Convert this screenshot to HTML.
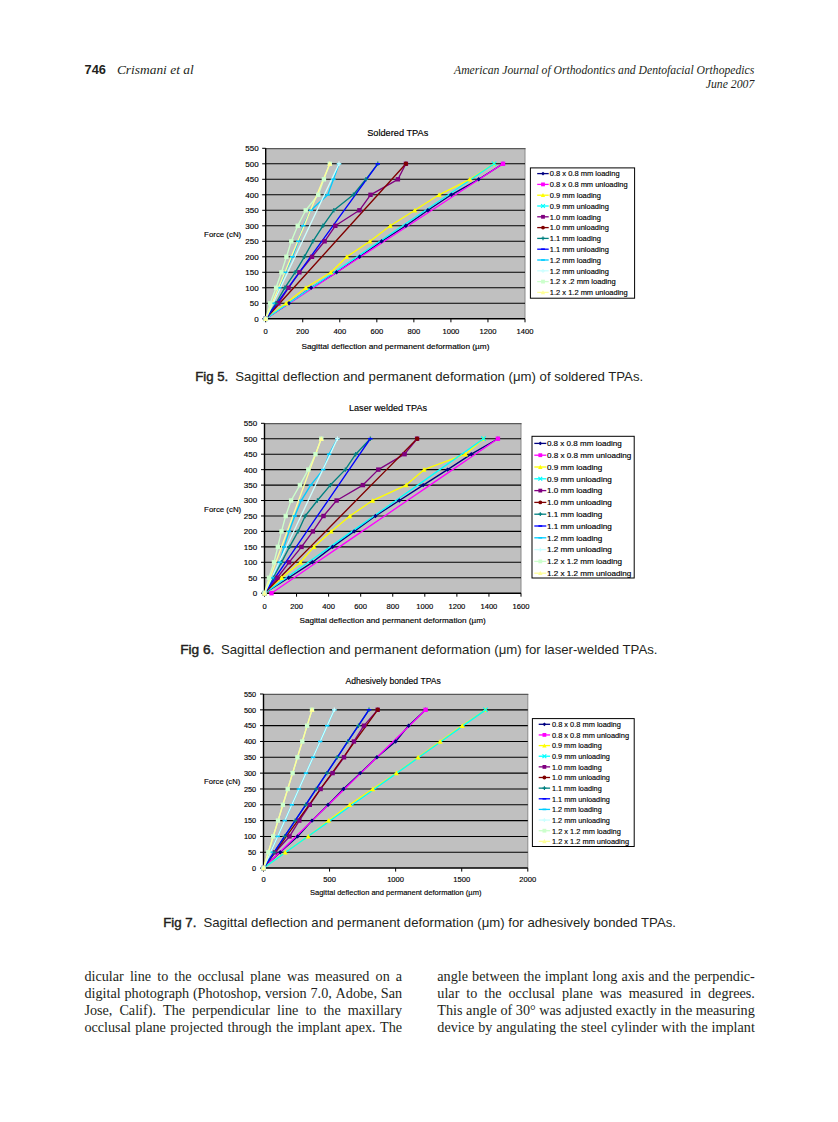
<!DOCTYPE html>
<html><head><meta charset="utf-8"><title>Page 746</title>
<style>html,body{margin:0;padding:0;background:#fff;}body{width:838px;height:1122px;overflow:hidden;}svg{display:block;}</style>
</head><body>
<svg width="838" height="1122" viewBox="0 0 838 1122">
<text x="84.6" y="74.2" font-family="Liberation Sans" font-size="12.8" font-weight="bold" font-style="normal" fill="#231f20" text-anchor="start" textLength="21.4" lengthAdjust="spacingAndGlyphs">746</text>
<text x="116.9" y="74.2" font-family="Liberation Serif" font-size="13.4" font-weight="normal" font-style="italic" fill="#231f20" text-anchor="start" textLength="76.8" lengthAdjust="spacingAndGlyphs">Crismani et al</text>
<text x="454.0" y="74.2" font-family="Liberation Serif" font-size="11.7" font-weight="normal" font-style="italic" fill="#231f20" text-anchor="start" textLength="300.3" lengthAdjust="spacingAndGlyphs">American Journal of Orthodontics and Dentofacial Orthopedics</text>
<text x="705.8" y="87.6" font-family="Liberation Serif" font-size="11.7" font-weight="normal" font-style="italic" fill="#231f20" text-anchor="start" textLength="48.5" lengthAdjust="spacingAndGlyphs">June 2007</text>
<rect x="265.70" y="148.30" width="259.30" height="170.50" fill="#C0C0C0"/>
<path d="M525.00 148.30V318.80" fill="none" stroke="#8a8a8a" stroke-width="1"/>
<path d="M265.70 148.60H525.50" fill="none" stroke="#5a5a5a" stroke-width="1.2"/>
<line x1="265.70" x2="525.00" y1="303.30" y2="303.30" stroke="#000" stroke-width="1.1"/>
<line x1="265.70" x2="525.00" y1="287.80" y2="287.80" stroke="#000" stroke-width="1.1"/>
<line x1="265.70" x2="525.00" y1="272.30" y2="272.30" stroke="#000" stroke-width="1.1"/>
<line x1="265.70" x2="525.00" y1="256.80" y2="256.80" stroke="#000" stroke-width="1.1"/>
<line x1="265.70" x2="525.00" y1="241.30" y2="241.30" stroke="#000" stroke-width="1.1"/>
<line x1="265.70" x2="525.00" y1="225.80" y2="225.80" stroke="#000" stroke-width="1.1"/>
<line x1="265.70" x2="525.00" y1="210.30" y2="210.30" stroke="#000" stroke-width="1.1"/>
<line x1="265.70" x2="525.00" y1="194.80" y2="194.80" stroke="#000" stroke-width="1.1"/>
<line x1="265.70" x2="525.00" y1="179.30" y2="179.30" stroke="#000" stroke-width="1.1"/>
<line x1="265.70" x2="525.00" y1="163.80" y2="163.80" stroke="#000" stroke-width="1.1"/>
<line x1="265.70" x2="525.00" y1="318.80" y2="318.80" stroke="#000" stroke-width="1.5"/>
<line x1="265.70" x2="265.70" y1="148.30" y2="318.80" stroke="#000" stroke-width="1.4"/>
<line x1="262.20" x2="265.70" y1="318.80" y2="318.80" stroke="#000" stroke-width="1"/>
<text x="258.6" y="321.7" font-family="Liberation Sans" font-size="8" font-weight="normal" font-style="normal" fill="#000" text-anchor="end" stroke="#000" stroke-width="0.15">0</text>
<line x1="262.20" x2="265.70" y1="303.30" y2="303.30" stroke="#000" stroke-width="1"/>
<text x="258.6" y="306.2" font-family="Liberation Sans" font-size="8" font-weight="normal" font-style="normal" fill="#000" text-anchor="end" stroke="#000" stroke-width="0.15">50</text>
<line x1="262.20" x2="265.70" y1="287.80" y2="287.80" stroke="#000" stroke-width="1"/>
<text x="258.6" y="290.7" font-family="Liberation Sans" font-size="8" font-weight="normal" font-style="normal" fill="#000" text-anchor="end" stroke="#000" stroke-width="0.15">100</text>
<line x1="262.20" x2="265.70" y1="272.30" y2="272.30" stroke="#000" stroke-width="1"/>
<text x="258.6" y="275.2" font-family="Liberation Sans" font-size="8" font-weight="normal" font-style="normal" fill="#000" text-anchor="end" stroke="#000" stroke-width="0.15">150</text>
<line x1="262.20" x2="265.70" y1="256.80" y2="256.80" stroke="#000" stroke-width="1"/>
<text x="258.6" y="259.7" font-family="Liberation Sans" font-size="8" font-weight="normal" font-style="normal" fill="#000" text-anchor="end" stroke="#000" stroke-width="0.15">200</text>
<line x1="262.20" x2="265.70" y1="241.30" y2="241.30" stroke="#000" stroke-width="1"/>
<text x="258.6" y="244.2" font-family="Liberation Sans" font-size="8" font-weight="normal" font-style="normal" fill="#000" text-anchor="end" stroke="#000" stroke-width="0.15">250</text>
<line x1="262.20" x2="265.70" y1="225.80" y2="225.80" stroke="#000" stroke-width="1"/>
<text x="258.6" y="228.7" font-family="Liberation Sans" font-size="8" font-weight="normal" font-style="normal" fill="#000" text-anchor="end" stroke="#000" stroke-width="0.15">300</text>
<line x1="262.20" x2="265.70" y1="210.30" y2="210.30" stroke="#000" stroke-width="1"/>
<text x="258.6" y="213.2" font-family="Liberation Sans" font-size="8" font-weight="normal" font-style="normal" fill="#000" text-anchor="end" stroke="#000" stroke-width="0.15">350</text>
<line x1="262.20" x2="265.70" y1="194.80" y2="194.80" stroke="#000" stroke-width="1"/>
<text x="258.6" y="197.7" font-family="Liberation Sans" font-size="8" font-weight="normal" font-style="normal" fill="#000" text-anchor="end" stroke="#000" stroke-width="0.15">400</text>
<line x1="262.20" x2="265.70" y1="179.30" y2="179.30" stroke="#000" stroke-width="1"/>
<text x="258.6" y="182.2" font-family="Liberation Sans" font-size="8" font-weight="normal" font-style="normal" fill="#000" text-anchor="end" stroke="#000" stroke-width="0.15">450</text>
<line x1="262.20" x2="265.70" y1="163.80" y2="163.80" stroke="#000" stroke-width="1"/>
<text x="258.6" y="166.7" font-family="Liberation Sans" font-size="8" font-weight="normal" font-style="normal" fill="#000" text-anchor="end" stroke="#000" stroke-width="0.15">500</text>
<line x1="262.20" x2="265.70" y1="148.30" y2="148.30" stroke="#000" stroke-width="1"/>
<text x="258.6" y="151.2" font-family="Liberation Sans" font-size="8" font-weight="normal" font-style="normal" fill="#000" text-anchor="end" stroke="#000" stroke-width="0.15">550</text>
<line x1="265.70" x2="265.70" y1="318.80" y2="322.30" stroke="#000" stroke-width="1"/>
<text x="265.7" y="334.1" font-family="Liberation Sans" font-size="7.6" font-weight="normal" font-style="normal" fill="#000" text-anchor="middle" stroke="#000" stroke-width="0.15">0</text>
<line x1="302.74" x2="302.74" y1="318.80" y2="322.30" stroke="#000" stroke-width="1"/>
<text x="302.7" y="334.1" font-family="Liberation Sans" font-size="7.6" font-weight="normal" font-style="normal" fill="#000" text-anchor="middle" stroke="#000" stroke-width="0.15">200</text>
<line x1="339.79" x2="339.79" y1="318.80" y2="322.30" stroke="#000" stroke-width="1"/>
<text x="339.8" y="334.1" font-family="Liberation Sans" font-size="7.6" font-weight="normal" font-style="normal" fill="#000" text-anchor="middle" stroke="#000" stroke-width="0.15">400</text>
<line x1="376.83" x2="376.83" y1="318.80" y2="322.30" stroke="#000" stroke-width="1"/>
<text x="376.8" y="334.1" font-family="Liberation Sans" font-size="7.6" font-weight="normal" font-style="normal" fill="#000" text-anchor="middle" stroke="#000" stroke-width="0.15">600</text>
<line x1="413.87" x2="413.87" y1="318.80" y2="322.30" stroke="#000" stroke-width="1"/>
<text x="413.9" y="334.1" font-family="Liberation Sans" font-size="7.6" font-weight="normal" font-style="normal" fill="#000" text-anchor="middle" stroke="#000" stroke-width="0.15">800</text>
<line x1="450.91" x2="450.91" y1="318.80" y2="322.30" stroke="#000" stroke-width="1"/>
<text x="450.9" y="334.1" font-family="Liberation Sans" font-size="7.6" font-weight="normal" font-style="normal" fill="#000" text-anchor="middle" stroke="#000" stroke-width="0.15">1000</text>
<line x1="487.96" x2="487.96" y1="318.80" y2="322.30" stroke="#000" stroke-width="1"/>
<text x="488.0" y="334.1" font-family="Liberation Sans" font-size="7.6" font-weight="normal" font-style="normal" fill="#000" text-anchor="middle" stroke="#000" stroke-width="0.15">1200</text>
<line x1="525.00" x2="525.00" y1="318.80" y2="322.30" stroke="#000" stroke-width="1"/>
<text x="525.0" y="334.1" font-family="Liberation Sans" font-size="7.6" font-weight="normal" font-style="normal" fill="#000" text-anchor="middle" stroke="#000" stroke-width="0.15">1400</text>
<path d="M265.70 318.80 L289.04 303.30 L311.08 287.80 L336.64 272.30 L359.60 256.80 L381.64 241.30 L405.91 225.80 L427.95 210.30 L451.28 194.80 L478.70 179.30 L502.96 163.80" fill="none" stroke="#000080" stroke-width="1.35" stroke-linejoin="round"/>
<path d="M265.70 318.80 L289.43 303.30 L313.15 287.80 L336.88 272.30 L360.60 256.80 L384.33 241.30 L408.06 225.80 L431.78 210.30 L455.51 194.80 L479.23 179.30 L502.96 163.80" fill="none" stroke="#FF00FF" stroke-width="1.35" stroke-linejoin="round"/>
<path d="M265.70 318.80 L286.07 303.30 L305.71 287.80 L330.90 272.30 L346.82 256.80 L369.98 241.30 L390.35 225.80 L414.80 210.30 L439.06 194.80 L469.81 179.30 L494.07 163.80" fill="none" stroke="#FFFF00" stroke-width="1.35" stroke-linejoin="round"/>
<path d="M265.70 318.80 L288.54 303.30 L311.37 287.80 L334.21 272.30 L357.05 256.80 L379.88 241.30 L402.72 225.80 L425.56 210.30 L448.40 194.80 L471.23 179.30 L494.07 163.80" fill="none" stroke="#00FFFF" stroke-width="1.35" stroke-linejoin="round"/>
<path d="M265.70 318.80 L278.29 303.30 L288.48 287.80 L299.41 272.30 L312.00 256.80 L324.60 241.30 L335.34 225.80 L359.42 210.30 L370.53 194.80 L397.94 179.30 L405.91 163.80" fill="none" stroke="#800080" stroke-width="1.35" stroke-linejoin="round"/>
<path d="M265.70 318.80 L279.72 303.30 L293.74 287.80 L307.76 272.30 L321.78 256.80 L335.80 241.30 L349.82 225.80 L363.85 210.30 L377.87 194.80 L391.89 179.30 L405.91 163.80" fill="none" stroke="#800000" stroke-width="1.35" stroke-linejoin="round"/>
<path d="M265.70 318.80 L275.89 303.30 L284.78 287.80 L295.15 272.30 L304.41 256.80 L312.93 241.30 L322.93 225.80 L333.86 210.30 L353.31 194.80 L365.90 179.30 L377.75 163.80" fill="none" stroke="#008080" stroke-width="1.35" stroke-linejoin="round"/>
<path d="M265.70 318.80 L276.91 303.30 L288.11 287.80 L299.32 272.30 L310.52 256.80 L321.73 241.30 L332.93 225.80 L344.14 210.30 L355.34 194.80 L366.55 179.30 L377.75 163.80" fill="none" stroke="#0000FF" stroke-width="1.35" stroke-linejoin="round"/>
<path d="M265.70 318.80 L272.92 303.30 L279.22 287.80 L285.15 272.30 L292.37 256.80 L298.30 241.30 L303.30 225.80 L310.89 210.30 L327.75 194.80 L333.49 179.30 L339.04 163.80" fill="none" stroke="#00CCFF" stroke-width="1.35" stroke-linejoin="round"/>
<path d="M265.70 318.80 L273.03 303.30 L280.37 287.80 L287.70 272.30 L295.04 256.80 L302.37 241.30 L309.71 225.80 L317.04 210.30 L324.38 194.80 L331.71 179.30 L339.04 163.80" fill="none" stroke="#CCFFFF" stroke-width="1.35" stroke-linejoin="round"/>
<path d="M265.70 318.80 L270.24 303.30 L276.07 287.80 L281.44 272.30 L286.44 256.80 L291.26 241.30 L297.74 225.80 L305.71 210.30 L318.30 194.80 L323.86 179.30 L329.78 163.80" fill="none" stroke="#CCFFCC" stroke-width="1.35" stroke-linejoin="round"/>
<path d="M265.70 318.80 L272.11 303.30 L278.52 287.80 L284.93 272.30 L291.33 256.80 L297.74 241.30 L304.15 225.80 L310.56 210.30 L316.97 194.80 L323.38 179.30 L329.78 163.80" fill="none" stroke="#FFFF99" stroke-width="1.35" stroke-linejoin="round"/>
<path d="M265.7 316.6L267.9 318.8L265.7 321.0L263.5 318.8Z" fill="#000080"/>
<path d="M289.0 301.1L291.2 303.3L289.0 305.5L286.8 303.3Z" fill="#000080"/>
<path d="M311.1 285.6L313.3 287.8L311.1 290.0L308.9 287.8Z" fill="#000080"/>
<path d="M336.6 270.1L338.8 272.3L336.6 274.5L334.4 272.3Z" fill="#000080"/>
<path d="M359.6 254.6L361.8 256.8L359.6 259.0L357.4 256.8Z" fill="#000080"/>
<path d="M381.6 239.1L383.8 241.3L381.6 243.5L379.4 241.3Z" fill="#000080"/>
<path d="M405.9 223.6L408.1 225.8L405.9 228.0L403.7 225.8Z" fill="#000080"/>
<path d="M427.9 208.1L430.1 210.3L427.9 212.5L425.7 210.3Z" fill="#000080"/>
<path d="M451.3 192.6L453.5 194.8L451.3 197.0L449.1 194.8Z" fill="#000080"/>
<path d="M478.7 177.1L480.9 179.3L478.7 181.5L476.5 179.3Z" fill="#000080"/>
<path d="M503.0 161.6L505.2 163.8L503.0 166.0L500.8 163.8Z" fill="#000080"/>
<rect x="263.5" y="316.6" width="4.4" height="4.4" fill="#FF00FF"/>
<rect x="500.8" y="161.6" width="4.4" height="4.4" fill="#FF00FF"/>
<path d="M265.7 316.3L268.2 321.0L263.2 321.0Z" fill="#FFFF00"/>
<path d="M286.1 300.8L288.6 305.5L283.6 305.5Z" fill="#FFFF00"/>
<path d="M305.7 285.3L308.2 290.0L303.2 290.0Z" fill="#FFFF00"/>
<path d="M330.9 269.8L333.4 274.5L328.4 274.5Z" fill="#FFFF00"/>
<path d="M346.8 254.3L349.3 259.0L344.3 259.0Z" fill="#FFFF00"/>
<path d="M370.0 238.8L372.5 243.5L367.5 243.5Z" fill="#FFFF00"/>
<path d="M390.3 223.3L392.8 228.0L387.8 228.0Z" fill="#FFFF00"/>
<path d="M414.8 207.8L417.3 212.5L412.3 212.5Z" fill="#FFFF00"/>
<path d="M439.1 192.3L441.6 197.0L436.6 197.0Z" fill="#FFFF00"/>
<path d="M469.8 176.8L472.3 181.5L467.3 181.5Z" fill="#FFFF00"/>
<path d="M494.1 161.3L496.6 166.0L491.6 166.0Z" fill="#FFFF00"/>
<path d="M263.5 316.6L267.9 321.0M267.9 316.6L263.5 321.0" stroke="#00FFFF" stroke-width="1.2"/>
<path d="M491.9 161.6L496.3 166.0M496.3 161.6L491.9 166.0" stroke="#00FFFF" stroke-width="1.2"/>
<rect x="263.5" y="316.6" width="4.4" height="4.4" fill="#800080"/>
<rect x="276.1" y="301.1" width="4.4" height="4.4" fill="#800080"/>
<rect x="286.3" y="285.6" width="4.4" height="4.4" fill="#800080"/>
<rect x="297.2" y="270.1" width="4.4" height="4.4" fill="#800080"/>
<rect x="309.8" y="254.6" width="4.4" height="4.4" fill="#800080"/>
<rect x="322.4" y="239.1" width="4.4" height="4.4" fill="#800080"/>
<rect x="333.1" y="223.6" width="4.4" height="4.4" fill="#800080"/>
<rect x="357.2" y="208.1" width="4.4" height="4.4" fill="#800080"/>
<rect x="368.3" y="192.6" width="4.4" height="4.4" fill="#800080"/>
<rect x="395.7" y="177.1" width="4.4" height="4.4" fill="#800080"/>
<rect x="403.7" y="161.6" width="4.4" height="4.4" fill="#800080"/>
<circle cx="265.7" cy="318.8" r="2.2" fill="#800000"/>
<circle cx="405.9" cy="163.8" r="2.2" fill="#800000"/>
<path d="M263.5 318.8H267.9M265.7 316.6V321.0" stroke="#008080" stroke-width="1.2"/>
<path d="M273.7 303.3H278.1M275.9 301.1V305.5" stroke="#008080" stroke-width="1.2"/>
<path d="M282.6 287.8H287.0M284.8 285.6V290.0" stroke="#008080" stroke-width="1.2"/>
<path d="M292.9 272.3H297.3M295.1 270.1V274.5" stroke="#008080" stroke-width="1.2"/>
<path d="M302.2 256.8H306.6M304.4 254.6V259.0" stroke="#008080" stroke-width="1.2"/>
<path d="M310.7 241.3H315.1M312.9 239.1V243.5" stroke="#008080" stroke-width="1.2"/>
<path d="M320.7 225.8H325.1M322.9 223.6V228.0" stroke="#008080" stroke-width="1.2"/>
<path d="M331.7 210.3H336.1M333.9 208.1V212.5" stroke="#008080" stroke-width="1.2"/>
<path d="M351.1 194.8H355.5M353.3 192.6V197.0" stroke="#008080" stroke-width="1.2"/>
<path d="M363.7 179.3H368.1M365.9 177.1V181.5" stroke="#008080" stroke-width="1.2"/>
<path d="M375.6 163.8H380.0M377.8 161.6V166.0" stroke="#008080" stroke-width="1.2"/>
<path d="M263.5 318.8H267.9" stroke="#0000FF" stroke-width="1.6"/>
<path d="M375.6 163.8H380.0" stroke="#0000FF" stroke-width="1.6"/>
<path d="M263.5 318.8H267.9" stroke="#00CCFF" stroke-width="1.6"/>
<path d="M270.7 303.3H275.1" stroke="#00CCFF" stroke-width="1.6"/>
<path d="M277.0 287.8H281.4" stroke="#00CCFF" stroke-width="1.6"/>
<path d="M282.9 272.3H287.3" stroke="#00CCFF" stroke-width="1.6"/>
<path d="M290.2 256.8H294.6" stroke="#00CCFF" stroke-width="1.6"/>
<path d="M296.1 241.3H300.5" stroke="#00CCFF" stroke-width="1.6"/>
<path d="M301.1 225.8H305.5" stroke="#00CCFF" stroke-width="1.6"/>
<path d="M308.7 210.3H313.1" stroke="#00CCFF" stroke-width="1.6"/>
<path d="M325.5 194.8H329.9" stroke="#00CCFF" stroke-width="1.6"/>
<path d="M331.3 179.3H335.7" stroke="#00CCFF" stroke-width="1.6"/>
<path d="M336.8 163.8H341.2" stroke="#00CCFF" stroke-width="1.6"/>
<path d="M263.5 318.8H267.9M265.7 316.6V321.0" stroke="#CCFFFF" stroke-width="1.2"/>
<path d="M336.8 163.8H341.2M339.0 161.6V166.0" stroke="#CCFFFF" stroke-width="1.2"/>
<rect x="263.5" y="316.6" width="4.4" height="4.4" fill="#CCFFCC"/>
<rect x="268.0" y="301.1" width="4.4" height="4.4" fill="#CCFFCC"/>
<rect x="273.9" y="285.6" width="4.4" height="4.4" fill="#CCFFCC"/>
<rect x="279.2" y="270.1" width="4.4" height="4.4" fill="#CCFFCC"/>
<rect x="284.2" y="254.6" width="4.4" height="4.4" fill="#CCFFCC"/>
<rect x="289.1" y="239.1" width="4.4" height="4.4" fill="#CCFFCC"/>
<rect x="295.5" y="223.6" width="4.4" height="4.4" fill="#CCFFCC"/>
<rect x="303.5" y="208.1" width="4.4" height="4.4" fill="#CCFFCC"/>
<rect x="316.1" y="192.6" width="4.4" height="4.4" fill="#CCFFCC"/>
<rect x="321.7" y="177.1" width="4.4" height="4.4" fill="#CCFFCC"/>
<rect x="327.6" y="161.6" width="4.4" height="4.4" fill="#CCFFCC"/>
<path d="M265.7 316.3L268.2 321.0L263.2 321.0Z" fill="#FFFF99"/>
<path d="M329.8 161.3L332.3 166.0L327.3 166.0Z" fill="#FFFF99"/>
<text x="367.2" y="135.7" font-family="Liberation Sans" font-size="9" font-weight="normal" font-style="normal" fill="#000" text-anchor="start" textLength="61.1" lengthAdjust="spacingAndGlyphs" stroke="#000" stroke-width="0.15">Soldered TPAs</text>
<text x="204.1" y="237.2" font-family="Liberation Sans" font-size="8" font-weight="normal" font-style="normal" fill="#000" text-anchor="start" textLength="37.1" lengthAdjust="spacingAndGlyphs" stroke="#000" stroke-width="0.15">Force (cN)</text>
<text x="301.4" y="349.2" font-family="Liberation Sans" font-size="8" font-weight="normal" font-style="normal" fill="#000" text-anchor="start" textLength="188.0" lengthAdjust="spacingAndGlyphs" stroke="#000" stroke-width="0.15">Sagittal deflection and permanent deformation (µm)</text>
<rect x="530.40" y="167.90" width="104.20" height="130.30" fill="#fff" stroke="#000" stroke-width="1"/>
<line x1="537.20" x2="548.70" y1="173.60" y2="173.60" stroke="#000080" stroke-width="1.3"/>
<path d="M543.0 171.7L544.9 173.6L543.0 175.5L541.1 173.6Z" fill="#000080"/>
<text x="549.8" y="176.4" font-family="Liberation Sans" font-size="7.6" font-weight="normal" font-style="normal" fill="#000" text-anchor="start" textLength="69.8" lengthAdjust="spacingAndGlyphs" stroke="#000" stroke-width="0.15">0.8 x 0.8 mm loading</text>
<line x1="537.20" x2="548.70" y1="184.40" y2="184.40" stroke="#FF00FF" stroke-width="1.3"/>
<rect x="541.1" y="182.5" width="3.8" height="3.8" fill="#FF00FF"/>
<text x="549.8" y="187.2" font-family="Liberation Sans" font-size="7.6" font-weight="normal" font-style="normal" fill="#000" text-anchor="start" textLength="77.9" lengthAdjust="spacingAndGlyphs" stroke="#000" stroke-width="0.15">0.8 x 0.8 mm unloading</text>
<line x1="537.20" x2="548.70" y1="195.20" y2="195.20" stroke="#FFFF00" stroke-width="1.3"/>
<path d="M543.0 193.0L545.1 197.1L540.8 197.1Z" fill="#FFFF00"/>
<text x="549.8" y="198.0" font-family="Liberation Sans" font-size="7.6" font-weight="normal" font-style="normal" fill="#000" text-anchor="start" textLength="51.1" lengthAdjust="spacingAndGlyphs" stroke="#000" stroke-width="0.15">0.9 mm loading</text>
<line x1="537.20" x2="548.70" y1="206.00" y2="206.00" stroke="#00FFFF" stroke-width="1.3"/>
<path d="M541.1 204.1L544.9 207.9M544.9 204.1L541.1 207.9" stroke="#00FFFF" stroke-width="1.2"/>
<text x="549.8" y="208.8" font-family="Liberation Sans" font-size="7.6" font-weight="normal" font-style="normal" fill="#000" text-anchor="start" textLength="59.0" lengthAdjust="spacingAndGlyphs" stroke="#000" stroke-width="0.15">0.9 mm unloading</text>
<line x1="537.20" x2="548.70" y1="216.80" y2="216.80" stroke="#800080" stroke-width="1.3"/>
<rect x="541.1" y="214.9" width="3.8" height="3.8" fill="#800080"/>
<text x="549.8" y="219.6" font-family="Liberation Sans" font-size="7.6" font-weight="normal" font-style="normal" fill="#000" text-anchor="start" textLength="51.1" lengthAdjust="spacingAndGlyphs" stroke="#000" stroke-width="0.15">1.0 mm loading</text>
<line x1="537.20" x2="548.70" y1="227.60" y2="227.60" stroke="#800000" stroke-width="1.3"/>
<circle cx="543.0" cy="227.6" r="1.9" fill="#800000"/>
<text x="549.8" y="230.4" font-family="Liberation Sans" font-size="7.6" font-weight="normal" font-style="normal" fill="#000" text-anchor="start" textLength="59.0" lengthAdjust="spacingAndGlyphs" stroke="#000" stroke-width="0.15">1.0 mm unloading</text>
<line x1="537.20" x2="548.70" y1="238.40" y2="238.40" stroke="#008080" stroke-width="1.3"/>
<path d="M541.1 238.4H544.9M543.0 236.5V240.3" stroke="#008080" stroke-width="1.2"/>
<text x="549.8" y="241.2" font-family="Liberation Sans" font-size="7.6" font-weight="normal" font-style="normal" fill="#000" text-anchor="start" textLength="51.1" lengthAdjust="spacingAndGlyphs" stroke="#000" stroke-width="0.15">1.1 mm loading</text>
<line x1="537.20" x2="548.70" y1="249.20" y2="249.20" stroke="#0000FF" stroke-width="1.3"/>
<path d="M541.1 249.2H544.9" stroke="#0000FF" stroke-width="1.6"/>
<text x="549.8" y="252.0" font-family="Liberation Sans" font-size="7.6" font-weight="normal" font-style="normal" fill="#000" text-anchor="start" textLength="59.0" lengthAdjust="spacingAndGlyphs" stroke="#000" stroke-width="0.15">1.1 mm unloading</text>
<line x1="537.20" x2="548.70" y1="260.00" y2="260.00" stroke="#00CCFF" stroke-width="1.3"/>
<path d="M541.1 260.0H544.9" stroke="#00CCFF" stroke-width="1.6"/>
<text x="549.8" y="262.8" font-family="Liberation Sans" font-size="7.6" font-weight="normal" font-style="normal" fill="#000" text-anchor="start" textLength="51.1" lengthAdjust="spacingAndGlyphs" stroke="#000" stroke-width="0.15">1.2 mm loading</text>
<line x1="537.20" x2="548.70" y1="270.80" y2="270.80" stroke="#CCFFFF" stroke-width="1.3"/>
<path d="M541.1 270.8H544.9M543.0 268.9V272.7" stroke="#CCFFFF" stroke-width="1.2"/>
<text x="549.8" y="273.6" font-family="Liberation Sans" font-size="7.6" font-weight="normal" font-style="normal" fill="#000" text-anchor="start" textLength="59.0" lengthAdjust="spacingAndGlyphs" stroke="#000" stroke-width="0.15">1.2 mm unloading</text>
<line x1="537.20" x2="548.70" y1="281.60" y2="281.60" stroke="#CCFFCC" stroke-width="1.3"/>
<rect x="541.1" y="279.7" width="3.8" height="3.8" fill="#CCFFCC"/>
<text x="549.8" y="284.4" font-family="Liberation Sans" font-size="7.6" font-weight="normal" font-style="normal" fill="#000" text-anchor="start" textLength="65.9" lengthAdjust="spacingAndGlyphs" stroke="#000" stroke-width="0.15">1.2 x .2 mm loading</text>
<line x1="537.20" x2="548.70" y1="292.40" y2="292.40" stroke="#FFFF99" stroke-width="1.3"/>
<path d="M543.0 290.2L545.1 294.3L540.8 294.3Z" fill="#FFFF99"/>
<text x="549.8" y="295.2" font-family="Liberation Sans" font-size="7.6" font-weight="normal" font-style="normal" fill="#000" text-anchor="start" textLength="77.9" lengthAdjust="spacingAndGlyphs" stroke="#000" stroke-width="0.15">1.2 x 1.2 mm unloading</text>
<rect x="264.50" y="423.30" width="256.50" height="169.90" fill="#C0C0C0"/>
<path d="M521.00 423.30V593.20" fill="none" stroke="#8a8a8a" stroke-width="1"/>
<path d="M264.50 423.60H521.50" fill="none" stroke="#5a5a5a" stroke-width="1.2"/>
<line x1="264.50" x2="521.00" y1="577.75" y2="577.75" stroke="#000" stroke-width="1.1"/>
<line x1="264.50" x2="521.00" y1="562.31" y2="562.31" stroke="#000" stroke-width="1.1"/>
<line x1="264.50" x2="521.00" y1="546.86" y2="546.86" stroke="#000" stroke-width="1.1"/>
<line x1="264.50" x2="521.00" y1="531.42" y2="531.42" stroke="#000" stroke-width="1.1"/>
<line x1="264.50" x2="521.00" y1="515.97" y2="515.97" stroke="#000" stroke-width="1.1"/>
<line x1="264.50" x2="521.00" y1="500.53" y2="500.53" stroke="#000" stroke-width="1.1"/>
<line x1="264.50" x2="521.00" y1="485.08" y2="485.08" stroke="#000" stroke-width="1.1"/>
<line x1="264.50" x2="521.00" y1="469.64" y2="469.64" stroke="#000" stroke-width="1.1"/>
<line x1="264.50" x2="521.00" y1="454.19" y2="454.19" stroke="#000" stroke-width="1.1"/>
<line x1="264.50" x2="521.00" y1="438.75" y2="438.75" stroke="#000" stroke-width="1.1"/>
<line x1="264.50" x2="521.00" y1="593.20" y2="593.20" stroke="#000" stroke-width="1.5"/>
<line x1="264.50" x2="264.50" y1="423.30" y2="593.20" stroke="#000" stroke-width="1.4"/>
<line x1="261.00" x2="264.50" y1="593.20" y2="593.20" stroke="#000" stroke-width="1"/>
<text x="257.2" y="596.1" font-family="Liberation Sans" font-size="8" font-weight="normal" font-style="normal" fill="#000" text-anchor="end" stroke="#000" stroke-width="0.15">0</text>
<line x1="261.00" x2="264.50" y1="577.75" y2="577.75" stroke="#000" stroke-width="1"/>
<text x="257.2" y="580.7" font-family="Liberation Sans" font-size="8" font-weight="normal" font-style="normal" fill="#000" text-anchor="end" stroke="#000" stroke-width="0.15">50</text>
<line x1="261.00" x2="264.50" y1="562.31" y2="562.31" stroke="#000" stroke-width="1"/>
<text x="257.2" y="565.2" font-family="Liberation Sans" font-size="8" font-weight="normal" font-style="normal" fill="#000" text-anchor="end" stroke="#000" stroke-width="0.15">100</text>
<line x1="261.00" x2="264.50" y1="546.86" y2="546.86" stroke="#000" stroke-width="1"/>
<text x="257.2" y="549.8" font-family="Liberation Sans" font-size="8" font-weight="normal" font-style="normal" fill="#000" text-anchor="end" stroke="#000" stroke-width="0.15">150</text>
<line x1="261.00" x2="264.50" y1="531.42" y2="531.42" stroke="#000" stroke-width="1"/>
<text x="257.2" y="534.3" font-family="Liberation Sans" font-size="8" font-weight="normal" font-style="normal" fill="#000" text-anchor="end" stroke="#000" stroke-width="0.15">200</text>
<line x1="261.00" x2="264.50" y1="515.97" y2="515.97" stroke="#000" stroke-width="1"/>
<text x="257.2" y="518.9" font-family="Liberation Sans" font-size="8" font-weight="normal" font-style="normal" fill="#000" text-anchor="end" stroke="#000" stroke-width="0.15">250</text>
<line x1="261.00" x2="264.50" y1="500.53" y2="500.53" stroke="#000" stroke-width="1"/>
<text x="257.2" y="503.4" font-family="Liberation Sans" font-size="8" font-weight="normal" font-style="normal" fill="#000" text-anchor="end" stroke="#000" stroke-width="0.15">300</text>
<line x1="261.00" x2="264.50" y1="485.08" y2="485.08" stroke="#000" stroke-width="1"/>
<text x="257.2" y="488.0" font-family="Liberation Sans" font-size="8" font-weight="normal" font-style="normal" fill="#000" text-anchor="end" stroke="#000" stroke-width="0.15">350</text>
<line x1="261.00" x2="264.50" y1="469.64" y2="469.64" stroke="#000" stroke-width="1"/>
<text x="257.2" y="472.5" font-family="Liberation Sans" font-size="8" font-weight="normal" font-style="normal" fill="#000" text-anchor="end" stroke="#000" stroke-width="0.15">400</text>
<line x1="261.00" x2="264.50" y1="454.19" y2="454.19" stroke="#000" stroke-width="1"/>
<text x="257.2" y="457.1" font-family="Liberation Sans" font-size="8" font-weight="normal" font-style="normal" fill="#000" text-anchor="end" stroke="#000" stroke-width="0.15">450</text>
<line x1="261.00" x2="264.50" y1="438.75" y2="438.75" stroke="#000" stroke-width="1"/>
<text x="257.2" y="441.6" font-family="Liberation Sans" font-size="8" font-weight="normal" font-style="normal" fill="#000" text-anchor="end" stroke="#000" stroke-width="0.15">500</text>
<line x1="261.00" x2="264.50" y1="423.30" y2="423.30" stroke="#000" stroke-width="1"/>
<text x="257.2" y="426.2" font-family="Liberation Sans" font-size="8" font-weight="normal" font-style="normal" fill="#000" text-anchor="end" stroke="#000" stroke-width="0.15">550</text>
<line x1="264.50" x2="264.50" y1="593.20" y2="596.70" stroke="#000" stroke-width="1"/>
<text x="264.5" y="609.0" font-family="Liberation Sans" font-size="7.6" font-weight="normal" font-style="normal" fill="#000" text-anchor="middle" stroke="#000" stroke-width="0.15">0</text>
<line x1="296.56" x2="296.56" y1="593.20" y2="596.70" stroke="#000" stroke-width="1"/>
<text x="296.6" y="609.0" font-family="Liberation Sans" font-size="7.6" font-weight="normal" font-style="normal" fill="#000" text-anchor="middle" stroke="#000" stroke-width="0.15">200</text>
<line x1="328.62" x2="328.62" y1="593.20" y2="596.70" stroke="#000" stroke-width="1"/>
<text x="328.6" y="609.0" font-family="Liberation Sans" font-size="7.6" font-weight="normal" font-style="normal" fill="#000" text-anchor="middle" stroke="#000" stroke-width="0.15">400</text>
<line x1="360.69" x2="360.69" y1="593.20" y2="596.70" stroke="#000" stroke-width="1"/>
<text x="360.7" y="609.0" font-family="Liberation Sans" font-size="7.6" font-weight="normal" font-style="normal" fill="#000" text-anchor="middle" stroke="#000" stroke-width="0.15">600</text>
<line x1="392.75" x2="392.75" y1="593.20" y2="596.70" stroke="#000" stroke-width="1"/>
<text x="392.8" y="609.0" font-family="Liberation Sans" font-size="7.6" font-weight="normal" font-style="normal" fill="#000" text-anchor="middle" stroke="#000" stroke-width="0.15">800</text>
<line x1="424.81" x2="424.81" y1="593.20" y2="596.70" stroke="#000" stroke-width="1"/>
<text x="424.8" y="609.0" font-family="Liberation Sans" font-size="7.6" font-weight="normal" font-style="normal" fill="#000" text-anchor="middle" stroke="#000" stroke-width="0.15">1000</text>
<line x1="456.88" x2="456.88" y1="593.20" y2="596.70" stroke="#000" stroke-width="1"/>
<text x="456.9" y="609.0" font-family="Liberation Sans" font-size="7.6" font-weight="normal" font-style="normal" fill="#000" text-anchor="middle" stroke="#000" stroke-width="0.15">1200</text>
<line x1="488.94" x2="488.94" y1="593.20" y2="596.70" stroke="#000" stroke-width="1"/>
<text x="488.9" y="609.0" font-family="Liberation Sans" font-size="7.6" font-weight="normal" font-style="normal" fill="#000" text-anchor="middle" stroke="#000" stroke-width="0.15">1400</text>
<line x1="521.00" x2="521.00" y1="593.20" y2="596.70" stroke="#000" stroke-width="1"/>
<text x="521.0" y="609.0" font-family="Liberation Sans" font-size="7.6" font-weight="normal" font-style="normal" fill="#000" text-anchor="middle" stroke="#000" stroke-width="0.15">1600</text>
<path d="M264.50 593.20 L288.71 577.75 L312.43 562.31 L332.47 546.86 L354.11 531.42 L375.44 515.97 L399.32 500.53 L423.21 485.08 L447.58 469.64 L471.30 454.19 L497.91 438.75" fill="none" stroke="#000080" stroke-width="1.35" stroke-linejoin="round"/>
<path d="M271.51 593.20 L294.15 577.75 L316.79 562.31 L339.43 546.86 L362.07 531.42 L384.71 515.97 L407.35 500.53 L429.99 485.08 L452.63 469.64 L475.27 454.19 L497.91 438.75" fill="none" stroke="#FF00FF" stroke-width="1.35" stroke-linejoin="round"/>
<path d="M264.50 593.20 L281.49 577.75 L300.41 562.31 L314.04 546.86 L331.19 531.42 L349.95 515.97 L372.55 500.53 L406.22 485.08 L424.01 469.64 L465.53 454.19 L483.49 438.75" fill="none" stroke="#FFFF00" stroke-width="1.35" stroke-linejoin="round"/>
<path d="M264.50 593.20 L286.40 577.75 L308.30 562.31 L330.20 546.86 L352.09 531.42 L373.99 515.97 L395.89 500.53 L417.79 485.08 L439.69 469.64 L461.59 454.19 L483.49 438.75" fill="none" stroke="#00FFFF" stroke-width="1.35" stroke-linejoin="round"/>
<path d="M264.50 593.20 L277.32 577.75 L289.03 562.31 L301.53 546.86 L312.91 531.42 L323.50 515.97 L336.64 500.53 L362.93 485.08 L378.32 469.64 L404.61 454.19 L417.12 438.75" fill="none" stroke="#800080" stroke-width="1.35" stroke-linejoin="round"/>
<path d="M264.50 593.20 L279.76 577.75 L295.02 562.31 L310.29 546.86 L325.55 531.42 L340.81 515.97 L356.07 500.53 L371.33 485.08 L386.59 469.64 L401.86 454.19 L417.12 438.75" fill="none" stroke="#800000" stroke-width="1.35" stroke-linejoin="round"/>
<path d="M264.50 593.20 L273.16 577.75 L281.49 562.31 L289.51 546.86 L298.17 531.42 L305.22 515.97 L317.40 500.53 L330.39 485.08 L345.30 469.64 L355.72 454.19 L370.31 438.75" fill="none" stroke="#008080" stroke-width="1.35" stroke-linejoin="round"/>
<path d="M264.50 593.20 L275.08 577.75 L285.66 562.31 L296.24 546.86 L306.82 531.42 L317.40 515.97 L327.98 500.53 L338.56 485.08 L349.14 469.64 L359.73 454.19 L370.31 438.75" fill="none" stroke="#0000FF" stroke-width="1.35" stroke-linejoin="round"/>
<path d="M264.50 593.20 L271.87 577.75 L279.57 562.31 L284.06 546.86 L289.03 531.42 L294.80 515.97 L301.21 500.53 L310.67 485.08 L323.17 469.64 L329.11 454.19 L337.44 438.75" fill="none" stroke="#00CCFF" stroke-width="1.35" stroke-linejoin="round"/>
<path d="M264.50 593.20 L271.79 577.75 L279.09 562.31 L286.38 546.86 L293.68 531.42 L300.97 515.97 L308.27 500.53 L315.56 485.08 L322.85 469.64 L330.15 454.19 L337.44 438.75" fill="none" stroke="#CCFFFF" stroke-width="1.35" stroke-linejoin="round"/>
<path d="M264.50 593.20 L268.99 577.75 L273.96 562.31 L277.81 546.86 L281.49 531.42 L285.66 515.97 L291.11 500.53 L299.93 485.08 L308.27 469.64 L315.48 454.19 L321.25 438.75" fill="none" stroke="#CCFFCC" stroke-width="1.35" stroke-linejoin="round"/>
<path d="M264.50 593.20 L270.18 577.75 L275.85 562.31 L281.53 546.86 L287.20 531.42 L292.88 515.97 L298.55 500.53 L304.23 485.08 L309.90 469.64 L315.58 454.19 L321.25 438.75" fill="none" stroke="#FFFF99" stroke-width="1.35" stroke-linejoin="round"/>
<path d="M264.5 591.0L266.7 593.2L264.5 595.4L262.3 593.2Z" fill="#000080"/>
<path d="M288.7 575.6L290.9 577.8L288.7 580.0L286.5 577.8Z" fill="#000080"/>
<path d="M312.4 560.1L314.6 562.3L312.4 564.5L310.2 562.3Z" fill="#000080"/>
<path d="M332.5 544.7L334.7 546.9L332.5 549.1L330.3 546.9Z" fill="#000080"/>
<path d="M354.1 529.2L356.3 531.4L354.1 533.6L351.9 531.4Z" fill="#000080"/>
<path d="M375.4 513.8L377.6 516.0L375.4 518.2L373.2 516.0Z" fill="#000080"/>
<path d="M399.3 498.3L401.5 500.5L399.3 502.7L397.1 500.5Z" fill="#000080"/>
<path d="M423.2 482.9L425.4 485.1L423.2 487.3L421.0 485.1Z" fill="#000080"/>
<path d="M447.6 467.4L449.8 469.6L447.6 471.8L445.4 469.6Z" fill="#000080"/>
<path d="M471.3 452.0L473.5 454.2L471.3 456.4L469.1 454.2Z" fill="#000080"/>
<path d="M497.9 436.5L500.1 438.7L497.9 440.9L495.7 438.7Z" fill="#000080"/>
<rect x="269.3" y="591.0" width="4.4" height="4.4" fill="#FF00FF"/>
<rect x="495.7" y="436.5" width="4.4" height="4.4" fill="#FF00FF"/>
<path d="M264.5 590.7L267.0 595.4L262.0 595.4Z" fill="#FFFF00"/>
<path d="M281.5 575.3L284.0 580.0L279.0 580.0Z" fill="#FFFF00"/>
<path d="M300.4 559.8L302.9 564.5L297.9 564.5Z" fill="#FFFF00"/>
<path d="M314.0 544.4L316.5 549.1L311.5 549.1Z" fill="#FFFF00"/>
<path d="M331.2 528.9L333.7 533.6L328.7 533.6Z" fill="#FFFF00"/>
<path d="M349.9 513.5L352.4 518.2L347.4 518.2Z" fill="#FFFF00"/>
<path d="M372.6 498.0L375.1 502.7L370.1 502.7Z" fill="#FFFF00"/>
<path d="M406.2 482.6L408.7 487.3L403.7 487.3Z" fill="#FFFF00"/>
<path d="M424.0 467.1L426.5 471.8L421.5 471.8Z" fill="#FFFF00"/>
<path d="M465.5 451.7L468.0 456.4L463.0 456.4Z" fill="#FFFF00"/>
<path d="M483.5 436.2L486.0 440.9L481.0 440.9Z" fill="#FFFF00"/>
<path d="M262.3 591.0L266.7 595.4M266.7 591.0L262.3 595.4" stroke="#00FFFF" stroke-width="1.2"/>
<path d="M481.3 436.5L485.7 440.9M485.7 436.5L481.3 440.9" stroke="#00FFFF" stroke-width="1.2"/>
<rect x="262.3" y="591.0" width="4.4" height="4.4" fill="#800080"/>
<rect x="275.1" y="575.6" width="4.4" height="4.4" fill="#800080"/>
<rect x="286.8" y="560.1" width="4.4" height="4.4" fill="#800080"/>
<rect x="299.3" y="544.7" width="4.4" height="4.4" fill="#800080"/>
<rect x="310.7" y="529.2" width="4.4" height="4.4" fill="#800080"/>
<rect x="321.3" y="513.8" width="4.4" height="4.4" fill="#800080"/>
<rect x="334.4" y="498.3" width="4.4" height="4.4" fill="#800080"/>
<rect x="360.7" y="482.9" width="4.4" height="4.4" fill="#800080"/>
<rect x="376.1" y="467.4" width="4.4" height="4.4" fill="#800080"/>
<rect x="402.4" y="452.0" width="4.4" height="4.4" fill="#800080"/>
<rect x="414.9" y="436.5" width="4.4" height="4.4" fill="#800080"/>
<circle cx="264.5" cy="593.2" r="2.2" fill="#800000"/>
<circle cx="417.1" cy="438.7" r="2.2" fill="#800000"/>
<path d="M262.3 593.2H266.7M264.5 591.0V595.4" stroke="#008080" stroke-width="1.2"/>
<path d="M271.0 577.8H275.4M273.2 575.6V580.0" stroke="#008080" stroke-width="1.2"/>
<path d="M279.3 562.3H283.7M281.5 560.1V564.5" stroke="#008080" stroke-width="1.2"/>
<path d="M287.3 546.9H291.7M289.5 544.7V549.1" stroke="#008080" stroke-width="1.2"/>
<path d="M296.0 531.4H300.4M298.2 529.2V533.6" stroke="#008080" stroke-width="1.2"/>
<path d="M303.0 516.0H307.4M305.2 513.8V518.2" stroke="#008080" stroke-width="1.2"/>
<path d="M315.2 500.5H319.6M317.4 498.3V502.7" stroke="#008080" stroke-width="1.2"/>
<path d="M328.2 485.1H332.6M330.4 482.9V487.3" stroke="#008080" stroke-width="1.2"/>
<path d="M343.1 469.6H347.5M345.3 467.4V471.8" stroke="#008080" stroke-width="1.2"/>
<path d="M353.5 454.2H357.9M355.7 452.0V456.4" stroke="#008080" stroke-width="1.2"/>
<path d="M368.1 438.7H372.5M370.3 436.5V440.9" stroke="#008080" stroke-width="1.2"/>
<path d="M262.3 593.2H266.7" stroke="#0000FF" stroke-width="1.6"/>
<path d="M368.1 438.7H372.5" stroke="#0000FF" stroke-width="1.6"/>
<path d="M262.3 593.2H266.7" stroke="#00CCFF" stroke-width="1.6"/>
<path d="M269.7 577.8H274.1" stroke="#00CCFF" stroke-width="1.6"/>
<path d="M277.4 562.3H281.8" stroke="#00CCFF" stroke-width="1.6"/>
<path d="M281.9 546.9H286.3" stroke="#00CCFF" stroke-width="1.6"/>
<path d="M286.8 531.4H291.2" stroke="#00CCFF" stroke-width="1.6"/>
<path d="M292.6 516.0H297.0" stroke="#00CCFF" stroke-width="1.6"/>
<path d="M299.0 500.5H303.4" stroke="#00CCFF" stroke-width="1.6"/>
<path d="M308.5 485.1H312.9" stroke="#00CCFF" stroke-width="1.6"/>
<path d="M321.0 469.6H325.4" stroke="#00CCFF" stroke-width="1.6"/>
<path d="M326.9 454.2H331.3" stroke="#00CCFF" stroke-width="1.6"/>
<path d="M335.2 438.7H339.6" stroke="#00CCFF" stroke-width="1.6"/>
<path d="M262.3 593.2H266.7M264.5 591.0V595.4" stroke="#CCFFFF" stroke-width="1.2"/>
<path d="M335.2 438.7H339.6M337.4 436.5V440.9" stroke="#CCFFFF" stroke-width="1.2"/>
<rect x="262.3" y="591.0" width="4.4" height="4.4" fill="#CCFFCC"/>
<rect x="266.8" y="575.6" width="4.4" height="4.4" fill="#CCFFCC"/>
<rect x="271.8" y="560.1" width="4.4" height="4.4" fill="#CCFFCC"/>
<rect x="275.6" y="544.7" width="4.4" height="4.4" fill="#CCFFCC"/>
<rect x="279.3" y="529.2" width="4.4" height="4.4" fill="#CCFFCC"/>
<rect x="283.5" y="513.8" width="4.4" height="4.4" fill="#CCFFCC"/>
<rect x="288.9" y="498.3" width="4.4" height="4.4" fill="#CCFFCC"/>
<rect x="297.7" y="482.9" width="4.4" height="4.4" fill="#CCFFCC"/>
<rect x="306.1" y="467.4" width="4.4" height="4.4" fill="#CCFFCC"/>
<rect x="313.3" y="452.0" width="4.4" height="4.4" fill="#CCFFCC"/>
<rect x="319.1" y="436.5" width="4.4" height="4.4" fill="#CCFFCC"/>
<path d="M264.5 590.7L267.0 595.4L262.0 595.4Z" fill="#FFFF99"/>
<path d="M321.3 436.2L323.8 440.9L318.8 440.9Z" fill="#FFFF99"/>
<text x="349.0" y="411.0" font-family="Liberation Sans" font-size="9" font-weight="normal" font-style="normal" fill="#000" text-anchor="start" textLength="78.0" lengthAdjust="spacingAndGlyphs" stroke="#000" stroke-width="0.15">Laser welded TPAs</text>
<text x="204.1" y="512.2" font-family="Liberation Sans" font-size="8" font-weight="normal" font-style="normal" fill="#000" text-anchor="start" textLength="37.1" lengthAdjust="spacingAndGlyphs" stroke="#000" stroke-width="0.15">Force (cN)</text>
<text x="299.5" y="623.3" font-family="Liberation Sans" font-size="8" font-weight="normal" font-style="normal" fill="#000" text-anchor="start" textLength="186.3" lengthAdjust="spacingAndGlyphs" stroke="#000" stroke-width="0.15">Sagittal deflection and permanent deformation (µm)</text>
<rect x="532.00" y="436.30" width="102.20" height="141.70" fill="#fff" stroke="#000" stroke-width="1"/>
<line x1="534.30" x2="546.30" y1="443.40" y2="443.40" stroke="#000080" stroke-width="1.3"/>
<path d="M540.3 441.5L542.2 443.4L540.3 445.3L538.4 443.4Z" fill="#000080"/>
<text x="546.9" y="446.2" font-family="Liberation Sans" font-size="7.6" font-weight="normal" font-style="normal" fill="#000" text-anchor="start" textLength="74.8" lengthAdjust="spacingAndGlyphs" stroke="#000" stroke-width="0.15">0.8 x 0.8 mm loading</text>
<line x1="534.30" x2="546.30" y1="455.20" y2="455.20" stroke="#FF00FF" stroke-width="1.3"/>
<rect x="538.4" y="453.3" width="3.8" height="3.8" fill="#FF00FF"/>
<text x="546.9" y="458.0" font-family="Liberation Sans" font-size="7.6" font-weight="normal" font-style="normal" fill="#000" text-anchor="start" textLength="84.4" lengthAdjust="spacingAndGlyphs" stroke="#000" stroke-width="0.15">0.8 x 0.8 mm unloading</text>
<line x1="534.30" x2="546.30" y1="467.00" y2="467.00" stroke="#FFFF00" stroke-width="1.3"/>
<path d="M540.3 464.8L542.5 468.9L538.1 468.9Z" fill="#FFFF00"/>
<text x="546.9" y="469.8" font-family="Liberation Sans" font-size="7.6" font-weight="normal" font-style="normal" fill="#000" text-anchor="start" textLength="55.4" lengthAdjust="spacingAndGlyphs" stroke="#000" stroke-width="0.15">0.9 mm loading</text>
<line x1="534.30" x2="546.30" y1="478.80" y2="478.80" stroke="#00FFFF" stroke-width="1.3"/>
<path d="M538.4 476.9L542.2 480.7M542.2 476.9L538.4 480.7" stroke="#00FFFF" stroke-width="1.2"/>
<text x="546.9" y="481.6" font-family="Liberation Sans" font-size="7.6" font-weight="normal" font-style="normal" fill="#000" text-anchor="start" textLength="64.9" lengthAdjust="spacingAndGlyphs" stroke="#000" stroke-width="0.15">0.9 mm unloading</text>
<line x1="534.30" x2="546.30" y1="490.60" y2="490.60" stroke="#800080" stroke-width="1.3"/>
<rect x="538.4" y="488.7" width="3.8" height="3.8" fill="#800080"/>
<text x="546.9" y="493.4" font-family="Liberation Sans" font-size="7.6" font-weight="normal" font-style="normal" fill="#000" text-anchor="start" textLength="55.4" lengthAdjust="spacingAndGlyphs" stroke="#000" stroke-width="0.15">1.0 mm loading</text>
<line x1="534.30" x2="546.30" y1="502.40" y2="502.40" stroke="#800000" stroke-width="1.3"/>
<circle cx="540.3" cy="502.4" r="1.9" fill="#800000"/>
<text x="546.9" y="505.2" font-family="Liberation Sans" font-size="7.6" font-weight="normal" font-style="normal" fill="#000" text-anchor="start" textLength="64.9" lengthAdjust="spacingAndGlyphs" stroke="#000" stroke-width="0.15">1.0 mm unloading</text>
<line x1="534.30" x2="546.30" y1="514.20" y2="514.20" stroke="#008080" stroke-width="1.3"/>
<path d="M538.4 514.2H542.2M540.3 512.3V516.1" stroke="#008080" stroke-width="1.2"/>
<text x="546.9" y="517.0" font-family="Liberation Sans" font-size="7.6" font-weight="normal" font-style="normal" fill="#000" text-anchor="start" textLength="55.4" lengthAdjust="spacingAndGlyphs" stroke="#000" stroke-width="0.15">1.1 mm loading</text>
<line x1="534.30" x2="546.30" y1="526.00" y2="526.00" stroke="#0000FF" stroke-width="1.3"/>
<path d="M538.4 526.0H542.2" stroke="#0000FF" stroke-width="1.6"/>
<text x="546.9" y="528.8" font-family="Liberation Sans" font-size="7.6" font-weight="normal" font-style="normal" fill="#000" text-anchor="start" textLength="64.9" lengthAdjust="spacingAndGlyphs" stroke="#000" stroke-width="0.15">1.1 mm unloading</text>
<line x1="534.30" x2="546.30" y1="537.80" y2="537.80" stroke="#00CCFF" stroke-width="1.3"/>
<path d="M538.4 537.8H542.2" stroke="#00CCFF" stroke-width="1.6"/>
<text x="546.9" y="540.6" font-family="Liberation Sans" font-size="7.6" font-weight="normal" font-style="normal" fill="#000" text-anchor="start" textLength="55.4" lengthAdjust="spacingAndGlyphs" stroke="#000" stroke-width="0.15">1.2 mm loading</text>
<line x1="534.30" x2="546.30" y1="549.60" y2="549.60" stroke="#CCFFFF" stroke-width="1.3"/>
<path d="M538.4 549.6H542.2M540.3 547.7V551.5" stroke="#CCFFFF" stroke-width="1.2"/>
<text x="546.9" y="552.4" font-family="Liberation Sans" font-size="7.6" font-weight="normal" font-style="normal" fill="#000" text-anchor="start" textLength="64.9" lengthAdjust="spacingAndGlyphs" stroke="#000" stroke-width="0.15">1.2 mm unloading</text>
<line x1="534.30" x2="546.30" y1="561.40" y2="561.40" stroke="#CCFFCC" stroke-width="1.3"/>
<rect x="538.4" y="559.5" width="3.8" height="3.8" fill="#CCFFCC"/>
<text x="546.9" y="564.2" font-family="Liberation Sans" font-size="7.6" font-weight="normal" font-style="normal" fill="#000" text-anchor="start" textLength="75.2" lengthAdjust="spacingAndGlyphs" stroke="#000" stroke-width="0.15">1.2 x 1.2 mm loading</text>
<line x1="534.30" x2="546.30" y1="573.20" y2="573.20" stroke="#FFFF99" stroke-width="1.3"/>
<path d="M540.3 571.0L542.5 575.1L538.1 575.1Z" fill="#FFFF99"/>
<text x="546.9" y="576.0" font-family="Liberation Sans" font-size="7.6" font-weight="normal" font-style="normal" fill="#000" text-anchor="start" textLength="84.4" lengthAdjust="spacingAndGlyphs" stroke="#000" stroke-width="0.15">1.2 x 1.2 mm unloading</text>
<rect x="263.50" y="694.00" width="264.30" height="174.10" fill="#C0C0C0"/>
<path d="M527.80 694.00V868.10" fill="none" stroke="#8a8a8a" stroke-width="1"/>
<path d="M263.50 694.30H528.30" fill="none" stroke="#5a5a5a" stroke-width="1.2"/>
<line x1="263.50" x2="527.80" y1="852.27" y2="852.27" stroke="#000" stroke-width="1.1"/>
<line x1="263.50" x2="527.80" y1="836.45" y2="836.45" stroke="#000" stroke-width="1.1"/>
<line x1="263.50" x2="527.80" y1="820.62" y2="820.62" stroke="#000" stroke-width="1.1"/>
<line x1="263.50" x2="527.80" y1="804.79" y2="804.79" stroke="#000" stroke-width="1.1"/>
<line x1="263.50" x2="527.80" y1="788.96" y2="788.96" stroke="#000" stroke-width="1.1"/>
<line x1="263.50" x2="527.80" y1="773.14" y2="773.14" stroke="#000" stroke-width="1.1"/>
<line x1="263.50" x2="527.80" y1="757.31" y2="757.31" stroke="#000" stroke-width="1.1"/>
<line x1="263.50" x2="527.80" y1="741.48" y2="741.48" stroke="#000" stroke-width="1.1"/>
<line x1="263.50" x2="527.80" y1="725.65" y2="725.65" stroke="#000" stroke-width="1.1"/>
<line x1="263.50" x2="527.80" y1="709.83" y2="709.83" stroke="#000" stroke-width="1.1"/>
<line x1="263.50" x2="527.80" y1="868.10" y2="868.10" stroke="#000" stroke-width="1.5"/>
<line x1="263.50" x2="263.50" y1="694.00" y2="868.10" stroke="#000" stroke-width="1.4"/>
<line x1="260.00" x2="263.50" y1="868.10" y2="868.10" stroke="#000" stroke-width="1"/>
<text x="256.1" y="870.7" font-family="Liberation Sans" font-size="7.3" font-weight="normal" font-style="normal" fill="#000" text-anchor="end" stroke="#000" stroke-width="0.15">0</text>
<line x1="260.00" x2="263.50" y1="852.27" y2="852.27" stroke="#000" stroke-width="1"/>
<text x="256.1" y="854.9" font-family="Liberation Sans" font-size="7.3" font-weight="normal" font-style="normal" fill="#000" text-anchor="end" stroke="#000" stroke-width="0.15">50</text>
<line x1="260.00" x2="263.50" y1="836.45" y2="836.45" stroke="#000" stroke-width="1"/>
<text x="256.1" y="839.1" font-family="Liberation Sans" font-size="7.3" font-weight="normal" font-style="normal" fill="#000" text-anchor="end" stroke="#000" stroke-width="0.15">100</text>
<line x1="260.00" x2="263.50" y1="820.62" y2="820.62" stroke="#000" stroke-width="1"/>
<text x="256.1" y="823.3" font-family="Liberation Sans" font-size="7.3" font-weight="normal" font-style="normal" fill="#000" text-anchor="end" stroke="#000" stroke-width="0.15">150</text>
<line x1="260.00" x2="263.50" y1="804.79" y2="804.79" stroke="#000" stroke-width="1"/>
<text x="256.1" y="807.4" font-family="Liberation Sans" font-size="7.3" font-weight="normal" font-style="normal" fill="#000" text-anchor="end" stroke="#000" stroke-width="0.15">200</text>
<line x1="260.00" x2="263.50" y1="788.96" y2="788.96" stroke="#000" stroke-width="1"/>
<text x="256.1" y="791.6" font-family="Liberation Sans" font-size="7.3" font-weight="normal" font-style="normal" fill="#000" text-anchor="end" stroke="#000" stroke-width="0.15">250</text>
<line x1="260.00" x2="263.50" y1="773.14" y2="773.14" stroke="#000" stroke-width="1"/>
<text x="256.1" y="775.8" font-family="Liberation Sans" font-size="7.3" font-weight="normal" font-style="normal" fill="#000" text-anchor="end" stroke="#000" stroke-width="0.15">300</text>
<line x1="260.00" x2="263.50" y1="757.31" y2="757.31" stroke="#000" stroke-width="1"/>
<text x="256.1" y="760.0" font-family="Liberation Sans" font-size="7.3" font-weight="normal" font-style="normal" fill="#000" text-anchor="end" stroke="#000" stroke-width="0.15">350</text>
<line x1="260.00" x2="263.50" y1="741.48" y2="741.48" stroke="#000" stroke-width="1"/>
<text x="256.1" y="744.1" font-family="Liberation Sans" font-size="7.3" font-weight="normal" font-style="normal" fill="#000" text-anchor="end" stroke="#000" stroke-width="0.15">400</text>
<line x1="260.00" x2="263.50" y1="725.65" y2="725.65" stroke="#000" stroke-width="1"/>
<text x="256.1" y="728.3" font-family="Liberation Sans" font-size="7.3" font-weight="normal" font-style="normal" fill="#000" text-anchor="end" stroke="#000" stroke-width="0.15">450</text>
<line x1="260.00" x2="263.50" y1="709.83" y2="709.83" stroke="#000" stroke-width="1"/>
<text x="256.1" y="712.5" font-family="Liberation Sans" font-size="7.3" font-weight="normal" font-style="normal" fill="#000" text-anchor="end" stroke="#000" stroke-width="0.15">500</text>
<line x1="260.00" x2="263.50" y1="694.00" y2="694.00" stroke="#000" stroke-width="1"/>
<text x="256.1" y="696.6" font-family="Liberation Sans" font-size="7.3" font-weight="normal" font-style="normal" fill="#000" text-anchor="end" stroke="#000" stroke-width="0.15">550</text>
<line x1="263.50" x2="263.50" y1="868.10" y2="871.60" stroke="#000" stroke-width="1"/>
<text x="263.5" y="881.7" font-family="Liberation Sans" font-size="7.6" font-weight="normal" font-style="normal" fill="#000" text-anchor="middle" stroke="#000" stroke-width="0.15">0</text>
<line x1="329.57" x2="329.57" y1="868.10" y2="871.60" stroke="#000" stroke-width="1"/>
<text x="329.6" y="881.7" font-family="Liberation Sans" font-size="7.6" font-weight="normal" font-style="normal" fill="#000" text-anchor="middle" stroke="#000" stroke-width="0.15">500</text>
<line x1="395.65" x2="395.65" y1="868.10" y2="871.60" stroke="#000" stroke-width="1"/>
<text x="395.6" y="881.7" font-family="Liberation Sans" font-size="7.6" font-weight="normal" font-style="normal" fill="#000" text-anchor="middle" stroke="#000" stroke-width="0.15">1000</text>
<line x1="461.72" x2="461.72" y1="868.10" y2="871.60" stroke="#000" stroke-width="1"/>
<text x="461.7" y="881.7" font-family="Liberation Sans" font-size="7.6" font-weight="normal" font-style="normal" fill="#000" text-anchor="middle" stroke="#000" stroke-width="0.15">1500</text>
<line x1="527.80" x2="527.80" y1="868.10" y2="871.60" stroke="#000" stroke-width="1"/>
<text x="527.8" y="881.7" font-family="Liberation Sans" font-size="7.6" font-weight="normal" font-style="normal" fill="#000" text-anchor="middle" stroke="#000" stroke-width="0.15">2000</text>
<path d="M263.50 868.10 L280.15 852.27 L297.59 836.45 L312.00 820.62 L328.12 804.79 L343.45 788.96 L360.23 773.14 L376.88 757.31 L395.65 741.48 L408.60 725.65 L425.65 709.83" fill="none" stroke="#000080" stroke-width="1.35" stroke-linejoin="round"/>
<path d="M263.50 868.10 L279.71 852.27 L295.93 836.45 L312.14 820.62 L328.36 804.79 L344.57 788.96 L360.79 773.14 L377.00 757.31 L393.22 741.48 L409.43 725.65 L425.65 709.83" fill="none" stroke="#FF00FF" stroke-width="1.35" stroke-linejoin="round"/>
<path d="M263.50 868.10 L285.17 852.27 L308.17 836.45 L328.65 820.62 L349.66 804.79 L372.66 788.96 L396.44 773.14 L418.12 757.31 L440.05 741.48 L462.25 725.65 L485.51 709.83" fill="none" stroke="#FFFF00" stroke-width="1.35" stroke-linejoin="round"/>
<path d="M263.50 868.10 L285.70 852.27 L307.90 836.45 L330.10 820.62 L352.30 804.79 L374.51 788.96 L396.71 773.14 L418.91 757.31 L441.11 741.48 L463.31 725.65 L485.51 709.83" fill="none" stroke="#00FFFF" stroke-width="1.35" stroke-linejoin="round"/>
<path d="M263.50 868.10 L275.13 852.27 L289.53 836.45 L299.31 820.62 L309.75 804.79 L320.59 788.96 L332.61 773.14 L343.98 757.31 L353.89 741.48 L363.93 725.65 L377.68 709.83" fill="none" stroke="#800080" stroke-width="1.35" stroke-linejoin="round"/>
<path d="M263.50 868.10 L274.92 852.27 L286.34 836.45 L297.75 820.62 L309.17 804.79 L320.59 788.96 L332.01 773.14 L343.42 757.31 L354.84 741.48 L366.26 725.65 L377.68 709.83" fill="none" stroke="#800000" stroke-width="1.35" stroke-linejoin="round"/>
<path d="M263.50 868.10 L274.07 852.27 L284.64 836.45 L295.08 820.62 L305.66 804.79 L316.23 788.96 L326.80 773.14 L337.24 757.31 L347.81 741.48 L358.38 725.65 L368.96 709.83" fill="none" stroke="#008080" stroke-width="1.35" stroke-linejoin="round"/>
<path d="M263.50 868.10 L274.05 852.27 L284.59 836.45 L295.14 820.62 L305.68 804.79 L316.23 788.96 L326.77 773.14 L337.32 757.31 L347.86 741.48 L358.41 725.65 L368.96 709.83" fill="none" stroke="#0000FF" stroke-width="1.35" stroke-linejoin="round"/>
<path d="M263.50 868.10 L270.58 852.27 L277.67 836.45 L284.75 820.62 L291.83 804.79 L298.92 788.96 L306.00 773.14 L313.08 757.31 L320.17 741.48 L327.25 725.65 L334.33 709.83" fill="none" stroke="#00CCFF" stroke-width="1.35" stroke-linejoin="round"/>
<path d="M263.50 868.10 L270.58 852.27 L277.67 836.45 L284.75 820.62 L291.83 804.79 L298.92 788.96 L306.00 773.14 L313.08 757.31 L320.17 741.48 L327.25 725.65 L334.33 709.83" fill="none" stroke="#CCFFFF" stroke-width="1.35" stroke-linejoin="round"/>
<path d="M263.50 868.10 L268.35 852.27 L273.20 836.45 L278.05 820.62 L282.90 804.79 L287.75 788.96 L292.60 773.14 L297.45 757.31 L302.30 741.48 L307.15 725.65 L312.00 709.83" fill="none" stroke="#CCFFCC" stroke-width="1.35" stroke-linejoin="round"/>
<path d="M263.50 868.10 L268.35 852.27 L273.20 836.45 L278.05 820.62 L282.90 804.79 L287.75 788.96 L292.60 773.14 L297.45 757.31 L302.30 741.48 L307.15 725.65 L312.00 709.83" fill="none" stroke="#FFFF99" stroke-width="1.35" stroke-linejoin="round"/>
<path d="M263.5 865.9L265.7 868.1L263.5 870.3L261.3 868.1Z" fill="#000080"/>
<path d="M280.2 850.1L282.4 852.3L280.2 854.5L278.0 852.3Z" fill="#000080"/>
<path d="M297.6 834.2L299.8 836.4L297.6 838.6L295.4 836.4Z" fill="#000080"/>
<path d="M312.0 818.4L314.2 820.6L312.0 822.8L309.8 820.6Z" fill="#000080"/>
<path d="M328.1 802.6L330.3 804.8L328.1 807.0L325.9 804.8Z" fill="#000080"/>
<path d="M343.5 786.8L345.7 789.0L343.5 791.2L341.3 789.0Z" fill="#000080"/>
<path d="M360.2 770.9L362.4 773.1L360.2 775.3L358.0 773.1Z" fill="#000080"/>
<path d="M376.9 755.1L379.1 757.3L376.9 759.5L374.7 757.3Z" fill="#000080"/>
<path d="M395.6 739.3L397.8 741.5L395.6 743.7L393.4 741.5Z" fill="#000080"/>
<path d="M408.6 723.5L410.8 725.7L408.6 727.9L406.4 725.7Z" fill="#000080"/>
<path d="M425.6 707.6L427.8 709.8L425.6 712.0L423.4 709.8Z" fill="#000080"/>
<rect x="261.3" y="865.9" width="4.4" height="4.4" fill="#FF00FF"/>
<rect x="423.4" y="707.6" width="4.4" height="4.4" fill="#FF00FF"/>
<path d="M263.5 865.6L266.0 870.3L261.0 870.3Z" fill="#FFFF00"/>
<path d="M285.2 849.8L287.7 854.5L282.7 854.5Z" fill="#FFFF00"/>
<path d="M308.2 833.9L310.7 838.6L305.7 838.6Z" fill="#FFFF00"/>
<path d="M328.6 818.1L331.1 822.8L326.1 822.8Z" fill="#FFFF00"/>
<path d="M349.7 802.3L352.2 807.0L347.2 807.0Z" fill="#FFFF00"/>
<path d="M372.7 786.5L375.2 791.2L370.2 791.2Z" fill="#FFFF00"/>
<path d="M396.4 770.6L398.9 775.3L393.9 775.3Z" fill="#FFFF00"/>
<path d="M418.1 754.8L420.6 759.5L415.6 759.5Z" fill="#FFFF00"/>
<path d="M440.1 739.0L442.6 743.7L437.6 743.7Z" fill="#FFFF00"/>
<path d="M462.3 723.2L464.8 727.9L459.8 727.9Z" fill="#FFFF00"/>
<path d="M485.5 707.3L488.0 712.0L483.0 712.0Z" fill="#FFFF00"/>
<path d="M261.3 865.9L265.7 870.3M265.7 865.9L261.3 870.3" stroke="#00FFFF" stroke-width="1.2"/>
<path d="M483.3 707.6L487.7 712.0M487.7 707.6L483.3 712.0" stroke="#00FFFF" stroke-width="1.2"/>
<rect x="261.3" y="865.9" width="4.4" height="4.4" fill="#800080"/>
<rect x="272.9" y="850.1" width="4.4" height="4.4" fill="#800080"/>
<rect x="287.3" y="834.2" width="4.4" height="4.4" fill="#800080"/>
<rect x="297.1" y="818.4" width="4.4" height="4.4" fill="#800080"/>
<rect x="307.6" y="802.6" width="4.4" height="4.4" fill="#800080"/>
<rect x="318.4" y="786.8" width="4.4" height="4.4" fill="#800080"/>
<rect x="330.4" y="770.9" width="4.4" height="4.4" fill="#800080"/>
<rect x="341.8" y="755.1" width="4.4" height="4.4" fill="#800080"/>
<rect x="351.7" y="739.3" width="4.4" height="4.4" fill="#800080"/>
<rect x="361.7" y="723.5" width="4.4" height="4.4" fill="#800080"/>
<rect x="375.5" y="707.6" width="4.4" height="4.4" fill="#800080"/>
<circle cx="263.5" cy="868.1" r="2.2" fill="#800000"/>
<circle cx="377.7" cy="709.8" r="2.2" fill="#800000"/>
<path d="M261.3 868.1H265.7M263.5 865.9V870.3" stroke="#008080" stroke-width="1.2"/>
<path d="M271.9 852.3H276.3M274.1 850.1V854.5" stroke="#008080" stroke-width="1.2"/>
<path d="M282.4 836.4H286.8M284.6 834.2V838.6" stroke="#008080" stroke-width="1.2"/>
<path d="M292.9 820.6H297.3M295.1 818.4V822.8" stroke="#008080" stroke-width="1.2"/>
<path d="M303.5 804.8H307.9M305.7 802.6V807.0" stroke="#008080" stroke-width="1.2"/>
<path d="M314.0 789.0H318.4M316.2 786.8V791.2" stroke="#008080" stroke-width="1.2"/>
<path d="M324.6 773.1H329.0M326.8 770.9V775.3" stroke="#008080" stroke-width="1.2"/>
<path d="M335.0 757.3H339.4M337.2 755.1V759.5" stroke="#008080" stroke-width="1.2"/>
<path d="M345.6 741.5H350.0M347.8 739.3V743.7" stroke="#008080" stroke-width="1.2"/>
<path d="M356.2 725.7H360.6M358.4 723.5V727.9" stroke="#008080" stroke-width="1.2"/>
<path d="M366.8 709.8H371.2M369.0 707.6V712.0" stroke="#008080" stroke-width="1.2"/>
<path d="M261.3 868.1H265.7" stroke="#0000FF" stroke-width="1.6"/>
<path d="M366.8 709.8H371.2" stroke="#0000FF" stroke-width="1.6"/>
<path d="M261.3 868.1H265.7" stroke="#00CCFF" stroke-width="1.6"/>
<path d="M268.4 852.3H272.8" stroke="#00CCFF" stroke-width="1.6"/>
<path d="M275.5 836.4H279.9" stroke="#00CCFF" stroke-width="1.6"/>
<path d="M282.5 820.6H286.9" stroke="#00CCFF" stroke-width="1.6"/>
<path d="M289.6 804.8H294.0" stroke="#00CCFF" stroke-width="1.6"/>
<path d="M296.7 789.0H301.1" stroke="#00CCFF" stroke-width="1.6"/>
<path d="M303.8 773.1H308.2" stroke="#00CCFF" stroke-width="1.6"/>
<path d="M310.9 757.3H315.3" stroke="#00CCFF" stroke-width="1.6"/>
<path d="M318.0 741.5H322.4" stroke="#00CCFF" stroke-width="1.6"/>
<path d="M325.0 725.7H329.4" stroke="#00CCFF" stroke-width="1.6"/>
<path d="M332.1 709.8H336.5" stroke="#00CCFF" stroke-width="1.6"/>
<path d="M261.3 868.1H265.7M263.5 865.9V870.3" stroke="#CCFFFF" stroke-width="1.2"/>
<path d="M332.1 709.8H336.5M334.3 707.6V712.0" stroke="#CCFFFF" stroke-width="1.2"/>
<rect x="261.3" y="865.9" width="4.4" height="4.4" fill="#CCFFCC"/>
<rect x="266.1" y="850.1" width="4.4" height="4.4" fill="#CCFFCC"/>
<rect x="271.0" y="834.2" width="4.4" height="4.4" fill="#CCFFCC"/>
<rect x="275.8" y="818.4" width="4.4" height="4.4" fill="#CCFFCC"/>
<rect x="280.7" y="802.6" width="4.4" height="4.4" fill="#CCFFCC"/>
<rect x="285.5" y="786.8" width="4.4" height="4.4" fill="#CCFFCC"/>
<rect x="290.4" y="770.9" width="4.4" height="4.4" fill="#CCFFCC"/>
<rect x="295.2" y="755.1" width="4.4" height="4.4" fill="#CCFFCC"/>
<rect x="300.1" y="739.3" width="4.4" height="4.4" fill="#CCFFCC"/>
<rect x="304.9" y="723.5" width="4.4" height="4.4" fill="#CCFFCC"/>
<rect x="309.8" y="707.6" width="4.4" height="4.4" fill="#CCFFCC"/>
<path d="M263.5 865.6L266.0 870.3L261.0 870.3Z" fill="#FFFF99"/>
<path d="M312.0 707.3L314.5 712.0L309.5 712.0Z" fill="#FFFF99"/>
<text x="345.4" y="683.6" font-family="Liberation Sans" font-size="9" font-weight="normal" font-style="normal" fill="#000" text-anchor="start" textLength="95.4" lengthAdjust="spacingAndGlyphs" stroke="#000" stroke-width="0.15">Adhesively bonded TPAs</text>
<text x="204.1" y="784.4" font-family="Liberation Sans" font-size="7.6" font-weight="normal" font-style="normal" fill="#000" text-anchor="start" textLength="36.1" lengthAdjust="spacingAndGlyphs" stroke="#000" stroke-width="0.15">Force (cN)</text>
<text x="310.0" y="894.5" font-family="Liberation Sans" font-size="8" font-weight="normal" font-style="normal" fill="#000" text-anchor="start" textLength="171.4" lengthAdjust="spacingAndGlyphs" stroke="#000" stroke-width="0.15">Sagittal deflection and permanent deformation (µm)</text>
<rect x="532.40" y="718.60" width="101.80" height="127.90" fill="#fff" stroke="#000" stroke-width="1"/>
<line x1="538.70" x2="550.10" y1="724.30" y2="724.30" stroke="#000080" stroke-width="1.3"/>
<path d="M544.4 722.4L546.3 724.3L544.4 726.2L542.5 724.3Z" fill="#000080"/>
<text x="552.0" y="727.1" font-family="Liberation Sans" font-size="7.6" font-weight="normal" font-style="normal" fill="#000" text-anchor="start" textLength="68.8" lengthAdjust="spacingAndGlyphs" stroke="#000" stroke-width="0.15">0.8 x 0.8 mm loading</text>
<line x1="538.70" x2="550.10" y1="734.94" y2="734.94" stroke="#FF00FF" stroke-width="1.3"/>
<rect x="542.5" y="733.0" width="3.8" height="3.8" fill="#FF00FF"/>
<text x="552.0" y="737.7" font-family="Liberation Sans" font-size="7.6" font-weight="normal" font-style="normal" fill="#000" text-anchor="start" textLength="77.0" lengthAdjust="spacingAndGlyphs" stroke="#000" stroke-width="0.15">0.8 x 0.8 mm unloading</text>
<line x1="538.70" x2="550.10" y1="745.58" y2="745.58" stroke="#FFFF00" stroke-width="1.3"/>
<path d="M544.4 743.4L546.6 747.5L542.2 747.5Z" fill="#FFFF00"/>
<text x="552.0" y="748.4" font-family="Liberation Sans" font-size="7.6" font-weight="normal" font-style="normal" fill="#000" text-anchor="start" textLength="49.7" lengthAdjust="spacingAndGlyphs" stroke="#000" stroke-width="0.15">0.9 mm loading</text>
<line x1="538.70" x2="550.10" y1="756.22" y2="756.22" stroke="#00FFFF" stroke-width="1.3"/>
<path d="M542.5 754.3L546.3 758.1M546.3 754.3L542.5 758.1" stroke="#00FFFF" stroke-width="1.2"/>
<text x="552.0" y="759.0" font-family="Liberation Sans" font-size="7.6" font-weight="normal" font-style="normal" fill="#000" text-anchor="start" textLength="57.9" lengthAdjust="spacingAndGlyphs" stroke="#000" stroke-width="0.15">0.9 mm unloading</text>
<line x1="538.70" x2="550.10" y1="766.86" y2="766.86" stroke="#800080" stroke-width="1.3"/>
<rect x="542.5" y="765.0" width="3.8" height="3.8" fill="#800080"/>
<text x="552.0" y="769.7" font-family="Liberation Sans" font-size="7.6" font-weight="normal" font-style="normal" fill="#000" text-anchor="start" textLength="49.7" lengthAdjust="spacingAndGlyphs" stroke="#000" stroke-width="0.15">1.0 mm loading</text>
<line x1="538.70" x2="550.10" y1="777.50" y2="777.50" stroke="#800000" stroke-width="1.3"/>
<circle cx="544.4" cy="777.5" r="1.9" fill="#800000"/>
<text x="552.0" y="780.3" font-family="Liberation Sans" font-size="7.6" font-weight="normal" font-style="normal" fill="#000" text-anchor="start" textLength="57.9" lengthAdjust="spacingAndGlyphs" stroke="#000" stroke-width="0.15">1.0 mm unloading</text>
<line x1="538.70" x2="550.10" y1="788.14" y2="788.14" stroke="#008080" stroke-width="1.3"/>
<path d="M542.5 788.1H546.3M544.4 786.2V790.0" stroke="#008080" stroke-width="1.2"/>
<text x="552.0" y="790.9" font-family="Liberation Sans" font-size="7.6" font-weight="normal" font-style="normal" fill="#000" text-anchor="start" textLength="49.7" lengthAdjust="spacingAndGlyphs" stroke="#000" stroke-width="0.15">1.1 mm loading</text>
<line x1="538.70" x2="550.10" y1="798.78" y2="798.78" stroke="#0000FF" stroke-width="1.3"/>
<path d="M542.5 798.8H546.3" stroke="#0000FF" stroke-width="1.6"/>
<text x="552.0" y="801.6" font-family="Liberation Sans" font-size="7.6" font-weight="normal" font-style="normal" fill="#000" text-anchor="start" textLength="57.9" lengthAdjust="spacingAndGlyphs" stroke="#000" stroke-width="0.15">1.1 mm unloading</text>
<line x1="538.70" x2="550.10" y1="809.42" y2="809.42" stroke="#00CCFF" stroke-width="1.3"/>
<path d="M542.5 809.4H546.3" stroke="#00CCFF" stroke-width="1.6"/>
<text x="552.0" y="812.2" font-family="Liberation Sans" font-size="7.6" font-weight="normal" font-style="normal" fill="#000" text-anchor="start" textLength="49.7" lengthAdjust="spacingAndGlyphs" stroke="#000" stroke-width="0.15">1.2 mm loading</text>
<line x1="538.70" x2="550.10" y1="820.06" y2="820.06" stroke="#CCFFFF" stroke-width="1.3"/>
<path d="M542.5 820.1H546.3M544.4 818.2V822.0" stroke="#CCFFFF" stroke-width="1.2"/>
<text x="552.0" y="822.9" font-family="Liberation Sans" font-size="7.6" font-weight="normal" font-style="normal" fill="#000" text-anchor="start" textLength="57.9" lengthAdjust="spacingAndGlyphs" stroke="#000" stroke-width="0.15">1.2 mm unloading</text>
<line x1="538.70" x2="550.10" y1="830.70" y2="830.70" stroke="#CCFFCC" stroke-width="1.3"/>
<rect x="542.5" y="828.8" width="3.8" height="3.8" fill="#CCFFCC"/>
<text x="552.0" y="833.5" font-family="Liberation Sans" font-size="7.6" font-weight="normal" font-style="normal" fill="#000" text-anchor="start" textLength="68.8" lengthAdjust="spacingAndGlyphs" stroke="#000" stroke-width="0.15">1.2 x 1.2 mm loading</text>
<line x1="538.70" x2="550.10" y1="841.34" y2="841.34" stroke="#FFFF99" stroke-width="1.3"/>
<path d="M544.4 839.1L546.6 843.2L542.2 843.2Z" fill="#FFFF99"/>
<text x="552.0" y="844.1" font-family="Liberation Sans" font-size="7.6" font-weight="normal" font-style="normal" fill="#000" text-anchor="start" textLength="77.0" lengthAdjust="spacingAndGlyphs" stroke="#000" stroke-width="0.15">1.2 x 1.2 mm unloading</text>
<text x="195.3" y="380.8" font-family="Liberation Sans" font-size="13.15" fill="#231f20" stroke="#231f20" stroke-width="0.45" textLength="33.0" lengthAdjust="spacingAndGlyphs">Fig 5.</text><text x="235.2" y="380.8" font-family="Liberation Sans" font-size="13.15" fill="#231f20" textLength="408.0" lengthAdjust="spacingAndGlyphs">Sagittal deflection and permanent deformation (μm) of soldered TPAs.</text>
<text x="180.2" y="653.7" font-family="Liberation Sans" font-size="13.15" fill="#231f20" stroke="#231f20" stroke-width="0.45" textLength="34.2" lengthAdjust="spacingAndGlyphs">Fig 6.</text><text x="220.9" y="653.7" font-family="Liberation Sans" font-size="13.15" fill="#231f20" textLength="436.6" lengthAdjust="spacingAndGlyphs">Sagittal deflection and permanent deformation (μm) for laser-welded TPAs.</text>
<text x="163.2" y="926.7" font-family="Liberation Sans" font-size="13.15" fill="#231f20" stroke="#231f20" stroke-width="0.45" textLength="33.2" lengthAdjust="spacingAndGlyphs">Fig 7.</text><text x="203.4" y="926.7" font-family="Liberation Sans" font-size="13.15" fill="#231f20" textLength="472.6" lengthAdjust="spacingAndGlyphs">Sagittal deflection and permanent deformation (μm) for adhesively bonded TPAs.</text>
<text x="84.4" y="980.7" font-family="Liberation Serif" font-size="14.2" font-weight="normal" font-style="normal" fill="#231f20" text-anchor="start">dicular</text>
<text x="129.9" y="980.7" font-family="Liberation Serif" font-size="14.2" font-weight="normal" font-style="normal" fill="#231f20" text-anchor="start">line</text>
<text x="157.2" y="980.7" font-family="Liberation Serif" font-size="14.2" font-weight="normal" font-style="normal" fill="#231f20" text-anchor="start">to</text>
<text x="174.3" y="980.7" font-family="Liberation Serif" font-size="14.2" font-weight="normal" font-style="normal" fill="#231f20" text-anchor="start">the</text>
<text x="197.7" y="980.7" font-family="Liberation Serif" font-size="14.2" font-weight="normal" font-style="normal" fill="#231f20" text-anchor="start">occlusal</text>
<text x="250.2" y="980.7" font-family="Liberation Serif" font-size="14.2" font-weight="normal" font-style="normal" fill="#231f20" text-anchor="start">plane</text>
<text x="287.0" y="980.7" font-family="Liberation Serif" font-size="14.2" font-weight="normal" font-style="normal" fill="#231f20" text-anchor="start">was</text>
<text x="315.1" y="980.7" font-family="Liberation Serif" font-size="14.2" font-weight="normal" font-style="normal" fill="#231f20" text-anchor="start">measured</text>
<text x="375.6" y="980.7" font-family="Liberation Serif" font-size="14.2" font-weight="normal" font-style="normal" fill="#231f20" text-anchor="start">on</text>
<text x="395.8" y="980.7" font-family="Liberation Serif" font-size="14.2" font-weight="normal" font-style="normal" fill="#231f20" text-anchor="start">a</text>
<text x="437.3" y="980.7" font-family="Liberation Serif" font-size="14.2" font-weight="normal" font-style="normal" fill="#231f20" text-anchor="start">angle</text>
<text x="472.1" y="980.7" font-family="Liberation Serif" font-size="14.2" font-weight="normal" font-style="normal" fill="#231f20" text-anchor="start">between</text>
<text x="523.4" y="980.7" font-family="Liberation Serif" font-size="14.2" font-weight="normal" font-style="normal" fill="#231f20" text-anchor="start">the</text>
<text x="544.8" y="980.7" font-family="Liberation Serif" font-size="14.2" font-weight="normal" font-style="normal" fill="#231f20" text-anchor="start">implant</text>
<text x="592.2" y="980.7" font-family="Liberation Serif" font-size="14.2" font-weight="normal" font-style="normal" fill="#231f20" text-anchor="start">long</text>
<text x="621.4" y="980.7" font-family="Liberation Serif" font-size="14.2" font-weight="normal" font-style="normal" fill="#231f20" text-anchor="start">axis</text>
<text x="648.3" y="980.7" font-family="Liberation Serif" font-size="14.2" font-weight="normal" font-style="normal" fill="#231f20" text-anchor="start">and</text>
<text x="672.8" y="980.7" font-family="Liberation Serif" font-size="14.2" font-weight="normal" font-style="normal" fill="#231f20" text-anchor="start">the</text>
<text x="694.2" y="980.7" font-family="Liberation Serif" font-size="14.2" font-weight="normal" font-style="normal" fill="#231f20" text-anchor="start">perpendic-</text>
<text x="84.4" y="997.6" font-family="Liberation Serif" font-size="14.2" font-weight="normal" font-style="normal" fill="#231f20" text-anchor="start">digital</text>
<text x="124.5" y="997.6" font-family="Liberation Serif" font-size="14.2" font-weight="normal" font-style="normal" fill="#231f20" text-anchor="start">photograph</text>
<text x="192.9" y="997.6" font-family="Liberation Serif" font-size="14.2" font-weight="normal" font-style="normal" fill="#231f20" text-anchor="start">(Photoshop,</text>
<text x="264.9" y="997.6" font-family="Liberation Serif" font-size="14.2" font-weight="normal" font-style="normal" fill="#231f20" text-anchor="start">version</text>
<text x="310.5" y="997.6" font-family="Liberation Serif" font-size="14.2" font-weight="normal" font-style="normal" fill="#231f20" text-anchor="start">7.0,</text>
<text x="335.6" y="997.6" font-family="Liberation Serif" font-size="14.2" font-weight="normal" font-style="normal" fill="#231f20" text-anchor="start">Adobe,</text>
<text x="380.8" y="997.6" font-family="Liberation Serif" font-size="14.2" font-weight="normal" font-style="normal" fill="#231f20" text-anchor="start">San</text>
<text x="437.3" y="997.6" font-family="Liberation Serif" font-size="14.2" font-weight="normal" font-style="normal" fill="#231f20" text-anchor="start">ular</text>
<text x="466.3" y="997.6" font-family="Liberation Serif" font-size="14.2" font-weight="normal" font-style="normal" fill="#231f20" text-anchor="start">to</text>
<text x="484.3" y="997.6" font-family="Liberation Serif" font-size="14.2" font-weight="normal" font-style="normal" fill="#231f20" text-anchor="start">the</text>
<text x="508.5" y="997.6" font-family="Liberation Serif" font-size="14.2" font-weight="normal" font-style="normal" fill="#231f20" text-anchor="start">occlusal</text>
<text x="562.0" y="997.6" font-family="Liberation Serif" font-size="14.2" font-weight="normal" font-style="normal" fill="#231f20" text-anchor="start">plane</text>
<text x="599.7" y="997.6" font-family="Liberation Serif" font-size="14.2" font-weight="normal" font-style="normal" fill="#231f20" text-anchor="start">was</text>
<text x="628.7" y="997.6" font-family="Liberation Serif" font-size="14.2" font-weight="normal" font-style="normal" fill="#231f20" text-anchor="start">measured</text>
<text x="690.0" y="997.6" font-family="Liberation Serif" font-size="14.2" font-weight="normal" font-style="normal" fill="#231f20" text-anchor="start">in</text>
<text x="708.0" y="997.6" font-family="Liberation Serif" font-size="14.2" font-weight="normal" font-style="normal" fill="#231f20" text-anchor="start">degrees.</text>
<text x="84.4" y="1014.7" font-family="Liberation Serif" font-size="14.2" font-weight="normal" font-style="normal" fill="#231f20" text-anchor="start">Jose,</text>
<text x="119.4" y="1014.7" font-family="Liberation Serif" font-size="14.2" font-weight="normal" font-style="normal" fill="#231f20" text-anchor="start">Calif).</text>
<text x="163.0" y="1014.7" font-family="Liberation Serif" font-size="14.2" font-weight="normal" font-style="normal" fill="#231f20" text-anchor="start">The</text>
<text x="192.1" y="1014.7" font-family="Liberation Serif" font-size="14.2" font-weight="normal" font-style="normal" fill="#231f20" text-anchor="start">perpendicular</text>
<text x="277.1" y="1014.7" font-family="Liberation Serif" font-size="14.2" font-weight="normal" font-style="normal" fill="#231f20" text-anchor="start">line</text>
<text x="305.4" y="1014.7" font-family="Liberation Serif" font-size="14.2" font-weight="normal" font-style="normal" fill="#231f20" text-anchor="start">to</text>
<text x="323.4" y="1014.7" font-family="Liberation Serif" font-size="14.2" font-weight="normal" font-style="normal" fill="#231f20" text-anchor="start">the</text>
<text x="347.7" y="1014.7" font-family="Liberation Serif" font-size="14.2" font-weight="normal" font-style="normal" fill="#231f20" text-anchor="start">maxillary</text>
<text x="437.3" y="1014.7" font-family="Liberation Serif" font-size="14.2" font-weight="normal" font-style="normal" fill="#231f20" text-anchor="start">This</text>
<text x="466.1" y="1014.7" font-family="Liberation Serif" font-size="14.2" font-weight="normal" font-style="normal" fill="#231f20" text-anchor="start">angle</text>
<text x="500.4" y="1014.7" font-family="Liberation Serif" font-size="14.2" font-weight="normal" font-style="normal" fill="#231f20" text-anchor="start">of</text>
<text x="515.8" y="1014.7" font-family="Liberation Serif" font-size="14.2" font-weight="normal" font-style="normal" fill="#231f20" text-anchor="start">30°</text>
<text x="539.2" y="1014.7" font-family="Liberation Serif" font-size="14.2" font-weight="normal" font-style="normal" fill="#231f20" text-anchor="start">was</text>
<text x="564.8" y="1014.7" font-family="Liberation Serif" font-size="14.2" font-weight="normal" font-style="normal" fill="#231f20" text-anchor="start">adjusted</text>
<text x="615.7" y="1014.7" font-family="Liberation Serif" font-size="14.2" font-weight="normal" font-style="normal" fill="#231f20" text-anchor="start">exactly</text>
<text x="660.3" y="1014.7" font-family="Liberation Serif" font-size="14.2" font-weight="normal" font-style="normal" fill="#231f20" text-anchor="start">in</text>
<text x="674.9" y="1014.7" font-family="Liberation Serif" font-size="14.2" font-weight="normal" font-style="normal" fill="#231f20" text-anchor="start">the</text>
<text x="695.7" y="1014.7" font-family="Liberation Serif" font-size="14.2" font-weight="normal" font-style="normal" fill="#231f20" text-anchor="start">measuring</text>
<text x="84.4" y="1032.3" font-family="Liberation Serif" font-size="14.2" font-weight="normal" font-style="normal" fill="#231f20" text-anchor="start">occlusal</text>
<text x="135.2" y="1032.3" font-family="Liberation Serif" font-size="14.2" font-weight="normal" font-style="normal" fill="#231f20" text-anchor="start">plane</text>
<text x="170.3" y="1032.3" font-family="Liberation Serif" font-size="14.2" font-weight="normal" font-style="normal" fill="#231f20" text-anchor="start">projected</text>
<text x="227.5" y="1032.3" font-family="Liberation Serif" font-size="14.2" font-weight="normal" font-style="normal" fill="#231f20" text-anchor="start">through</text>
<text x="276.0" y="1032.3" font-family="Liberation Serif" font-size="14.2" font-weight="normal" font-style="normal" fill="#231f20" text-anchor="start">the</text>
<text x="297.6" y="1032.3" font-family="Liberation Serif" font-size="14.2" font-weight="normal" font-style="normal" fill="#231f20" text-anchor="start">implant</text>
<text x="345.3" y="1032.3" font-family="Liberation Serif" font-size="14.2" font-weight="normal" font-style="normal" fill="#231f20" text-anchor="start">apex.</text>
<text x="380.0" y="1032.3" font-family="Liberation Serif" font-size="14.2" font-weight="normal" font-style="normal" fill="#231f20" text-anchor="start">The</text>
<text x="437.3" y="1032.3" font-family="Liberation Serif" font-size="14.2" font-weight="normal" font-style="normal" fill="#231f20" text-anchor="start">device</text>
<text x="478.2" y="1032.3" font-family="Liberation Serif" font-size="14.2" font-weight="normal" font-style="normal" fill="#231f20" text-anchor="start">by</text>
<text x="496.2" y="1032.3" font-family="Liberation Serif" font-size="14.2" font-weight="normal" font-style="normal" fill="#231f20" text-anchor="start">angulating</text>
<text x="559.9" y="1032.3" font-family="Liberation Serif" font-size="14.2" font-weight="normal" font-style="normal" fill="#231f20" text-anchor="start">the</text>
<text x="581.1" y="1032.3" font-family="Liberation Serif" font-size="14.2" font-weight="normal" font-style="normal" fill="#231f20" text-anchor="start">steel</text>
<text x="610.9" y="1032.3" font-family="Liberation Serif" font-size="14.2" font-weight="normal" font-style="normal" fill="#231f20" text-anchor="start">cylinder</text>
<text x="661.3" y="1032.3" font-family="Liberation Serif" font-size="14.2" font-weight="normal" font-style="normal" fill="#231f20" text-anchor="start">with</text>
<text x="690.4" y="1032.3" font-family="Liberation Serif" font-size="14.2" font-weight="normal" font-style="normal" fill="#231f20" text-anchor="start">the</text>
<text x="711.5" y="1032.3" font-family="Liberation Serif" font-size="14.2" font-weight="normal" font-style="normal" fill="#231f20" text-anchor="start">implant</text>
</svg>
</body></html>
